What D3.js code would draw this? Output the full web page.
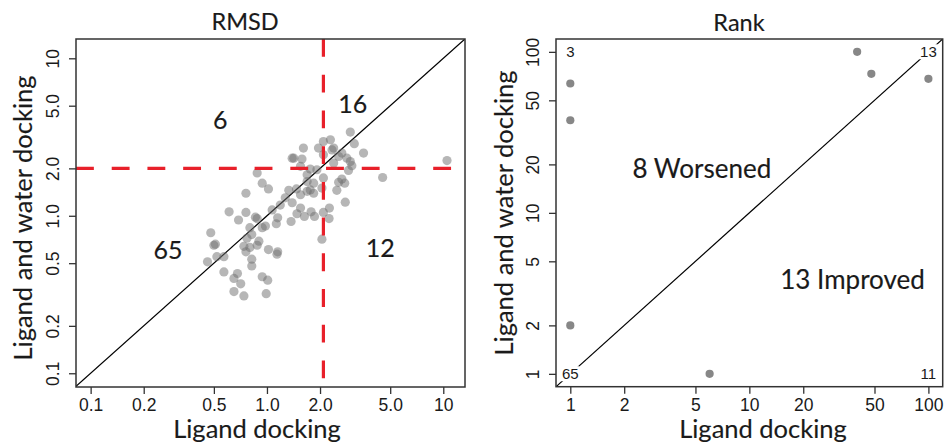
<!DOCTYPE html>
<html>
<head>
<meta charset="utf-8">
<script src="https://cdn.jsdelivr.net/npm/d3@7"></script>
<style>
  body { margin: 0; background: #fff; }
  svg { display: block; }
</style>
</head>
<body>
<script>
// RMSD panel: ligand docking vs ligand + water docking
var rmsdLigand = [2.97, 2.29, 2.09, 1.61, 1.96, 2.39, 3.13, 3.53, 2.66, 1.42, 1.58, 2.09, 2.55, 2.84, 10.5,
  1.76, 1.55, 3.03, 2.90, 2.39, 0.88, 2.09, 2.66, 2.55, 4.53, 1.69, 1.84, 0.94, 1.02, 1.76,
  2.49, 2.05, 1.33, 1.47, 1.55, 1.69, 1.84, 0.76, 2.78, 1.27, 1.19, 1.39, 1.07, 0.61, 0.76,
  1.55, 1.48, 1.63, 1.78, 1.86, 2.09, 2.26, 2.25, 0.69, 0.86, 0.88, 1.15, 1.13, 1.37, 0.98,
  0.80, 0.94, 0.48, 0.82, 0.77, 2.05, 0.50, 0.51, 0.90, 0.74, 0.80, 0.88, 0.76, 1.02, 1.15,
  1.14, 0.46, 0.52, 0.57, 0.82, 0.82, 0.57, 0.68, 0.65, 0.71, 0.94, 1.01, 0.65, 0.74, 0.99,
  2.34, 2.97, 1.92, 1.69, 1.39, 2.76];
var rmsdWater = [3.40, 3.04, 2.96, 2.69, 2.69, 2.69, 2.87, 2.50, 2.50, 2.32, 2.29, 2.44, 2.38, 2.32, 2.24,
  1.98, 2.06, 2.08, 1.94, 2.16, 1.87, 1.74, 1.71, 1.63, 1.75, 1.65, 1.61, 1.61, 1.48, 1.46,
  1.45, 1.50, 1.45, 1.48, 1.36, 1.43, 1.39, 1.39, 1.22, 1.30, 1.17, 1.21, 1.09, 1.06, 1.05,
  1.12, 1.03, 0.99, 1.06, 0.99, 1.05, 1.12, 0.96, 0.94, 0.98, 0.96, 0.97, 0.89, 0.92, 0.86,
  0.84, 0.84, 0.78, 0.76, 0.72, 0.71, 0.65, 0.66, 0.69, 0.64, 0.63, 0.65, 0.59, 0.61, 0.59,
  0.57, 0.51, 0.55, 0.55, 0.53, 0.48, 0.44, 0.43, 0.40, 0.37, 0.41, 0.39, 0.33, 0.31, 0.32,
  2.62, 2.21, 1.96, 1.82, 2.32, 1.61];
var rmsdCutoff = 2;
var rmsdCutoffX = 2.09;
var rmsdTicks = [0.1, 0.2, 0.5, 1, 2, 5, 10];
var rmsdTickLabels = ["0.1", "0.2", "0.5", "1.0", "2.0", "5.0", "10"];
var rmsdCounts = ["6", "16", "65", "12"];

// Rank panel
var rankLigand = [1, 1, 1, 6, 40, 48, 100];
var rankWater = [63.6, 37.6, 2, 1, 100, 73, 68];
var rankTicks = [1, 2, 5, 10, 20, 50, 100];
var rankTickLabels = ["1", "2", "5", "10", "20", "50", "100"];
var rankCornerCounts = ["3", "13", "65", "11"];
var rankNotes = ["8 Worsened", "13 Improved"];

var titleFont = "Lato, 'Open Sans', sans-serif";
var tickFont = "'Liberation Sans', Arial, sans-serif";
var ink = "#1a1a1a";

var svg = d3.select("body").append("svg")
  .attr("width", 944)
  .attr("height", 444);

// slightly heavier look for the Myriad-like labels
function bigText(sel, size) {
  sel.attr("font-family", titleFont).attr("font-size", size)
    .attr("fill", ink).attr("stroke", ink).attr("stroke-width", 0.15);
}

function panel(opt) {
  var x = d3.scaleLog().domain(opt.xDomain).range([opt.left, opt.right]);
  var y = d3.scaleLog().domain(opt.yDomain).range([opt.bottom, opt.top]);
  var g = svg.append("g");

  var clipId = "clip" + opt.id;
  g.append("clipPath").attr("id", clipId)
    .append("rect")
    .attr("x", opt.left).attr("y", opt.top)
    .attr("width", opt.right - opt.left).attr("height", opt.bottom - opt.top);

  var plot = g.append("g").attr("clip-path", "url(#" + clipId + ")");

  // axes
  var xAxis = g.append("g")
    .attr("transform", "translate(0," + opt.bottom + ")")
    .call(d3.axisBottom(x).tickValues(opt.ticks).tickSize(7).tickFormat(function(d, i) { return opt.tickLabels[i]; }));
  var yAxis = g.append("g")
    .attr("transform", "translate(" + opt.left + ",0)")
    .call(d3.axisLeft(y).tickValues(opt.ticks).tickSize(7).tickFormat(function(d, i) { return opt.tickLabels[i]; }));
  [xAxis, yAxis].forEach(function(a) {
    a.select(".domain").remove();
    a.selectAll(".tick line").attr("stroke", "#333").attr("stroke-width", 1.3);
    a.selectAll("text").attr("font-family", tickFont).attr("font-size", 17.5).attr("fill", ink);
  });
  xAxis.selectAll("text").attr("y", 11.5).attr("dy", "0.71em");
  yAxis.selectAll("text")
    .attr("transform", "rotate(-90)")
    .attr("x", 0).attr("y", -17).attr("dy", 0)
    .attr("text-anchor", "middle");

  return { x: x, y: y, g: g, plot: plot };
}

// ---------- RMSD ----------
var p1 = panel({
  id: 1, left: 76, right: 465, top: 39, bottom: 387,
  xDomain: [0.0826, 13.28], yDomain: [0.0818, 13.26],
  ticks: rmsdTicks, tickLabels: rmsdTickLabels
});

p1.plot.append("line")
  .attr("x1", p1.x(rmsdTicks[0] * 0.8)).attr("y1", p1.y(rmsdTicks[0] * 0.8))
  .attr("x2", p1.x(14)).attr("y2", p1.y(14))
  .attr("stroke", "#000").attr("stroke-width", 1.2);

p1.plot.selectAll("circle")
  .data(rmsdLigand)
  .enter().append("circle")
  .attr("cx", function(d) { return p1.x(d); })
  .attr("cy", function(d, i) { return p1.y(rmsdWater[i]); })
  .attr("r", 4.6)
  .attr("fill", "#6e6e6e")
  .attr("fill-opacity", 0.5);

p1.plot.append("line")
  .attr("x1", p1.x.range()[0]).attr("x2", p1.x.range()[1])
  .attr("y1", p1.y(rmsdCutoff)).attr("y2", p1.y(rmsdCutoff))
  .attr("stroke", "#e8202a").attr("stroke-width", 3.2)
  .attr("stroke-dasharray", "17.86,17.86");
p1.plot.append("line")
  .attr("x1", p1.x(rmsdCutoffX)).attr("x2", p1.x(rmsdCutoffX))
  .attr("y1", p1.y.range()[1]).attr("y2", p1.y.range()[0])
  .attr("stroke", "#e8202a").attr("stroke-width", 3.2)
  .attr("stroke-dasharray", "17.86,17.86");

var rmsdCountPos = [[0.543, 4.07], [3.07, 5.14], [0.275, 0.608], [4.39, 0.626]];
p1.g.selectAll(".count")
  .data(rmsdCounts)
  .enter().append("text")
  .attr("class", "count")
  .attr("x", function(d, i) { return p1.x(rmsdCountPos[i][0]); })
  .attr("y", function(d, i) { return p1.y(rmsdCountPos[i][1]); })
  .attr("dy", "0.36em")
  .attr("text-anchor", "middle")
  .call(bigText, 25)
  .text(function(d) { return d; });

// ---------- Rank ----------
var p2 = panel({
  id: 2, left: 556, right: 942.7, top: 39, bottom: 386.7,
  xDomain: [0.832, 120.2], yDomain: [0.832, 120.2],
  ticks: rankTicks, tickLabels: rankTickLabels
});

p2.plot.append("line")
  .attr("x1", p2.x(0.8)).attr("y1", p2.y(0.8))
  .attr("x2", p2.x(125)).attr("y2", p2.y(125))
  .attr("stroke", "#000").attr("stroke-width", 1.2);

var cornerPos = [[1, 100], [100, 100], [1, 1], [100, 1]];
var corner = p2.g.selectAll(".corner")
  .data(rankCornerCounts)
  .enter().append("g")
  .attr("class", "corner")
  .attr("transform", function(d, i) { return "translate(" + p2.x(cornerPos[i][0]) + "," + p2.y(cornerPos[i][1]) + ")"; });
corner.append("text")
  .attr("dy", "0.36em")
  .attr("text-anchor", "middle")
  .attr("font-family", tickFont).attr("font-size", 15).attr("fill", ink)
  .text(function(d) { return d; });
corner.insert("rect", "text")
  .each(function() {
    var b = this.parentNode.querySelector("text").getBBox();
    d3.select(this).attr("x", b.x - 1).attr("y", b.y + 1).attr("width", b.width + 2).attr("height", b.height - 2);
  })
  .attr("fill", "#fff");

p2.plot.selectAll("circle")
  .data(rankLigand)
  .enter().append("circle")
  .attr("cx", function(d) { return p2.x(d); })
  .attr("cy", function(d, i) { return p2.y(rankWater[i]); })
  .attr("r", 4.1)
  .attr("fill", "#878787");

var notePos = [[5.43, 18.7], [37.7, 3.85]];
p2.g.selectAll(".note")
  .data(rankNotes)
  .enter().append("text")
  .attr("class", "note")
  .attr("x", function(d, i) { return p2.x(notePos[i][0]); })
  .attr("y", function(d, i) { return p2.y(notePos[i][1]); })
  .attr("dy", "0.36em")
  .attr("text-anchor", "middle")
  .call(bigText, 26)
  .text(function(d) { return d; });

// frames and titles
[p1, p2].forEach(function(p) {
  var xr = p.x.range(), yr = p.y.range();
  p.g.append("rect")
    .attr("x", xr[0]).attr("y", yr[1])
    .attr("width", xr[1] - xr[0]).attr("height", yr[0] - yr[1])
    .attr("fill", "none").attr("stroke", "#333").attr("stroke-width", 1.5);
});

var titles = [
  { text: "RMSD", x: 245, y: 30 },
  { text: "Rank", x: 739, y: 31 }
];
svg.selectAll(".title")
  .data(titles)
  .enter().append("text")
  .attr("class", "title")
  .attr("x", function(d) { return d.x; })
  .attr("y", function(d) { return d.y; })
  .attr("text-anchor", "middle")
  .call(bigText, 23.5)
  .text(function(d) { return d.text; });

var xTitles = [{ x: 257, y: 438 }, { x: 763, y: 438 }];
svg.selectAll(".xtitle")
  .data(xTitles)
  .enter().append("text")
  .attr("class", "xtitle")
  .attr("x", function(d) { return d.x; })
  .attr("y", function(d) { return d.y; })
  .attr("text-anchor", "middle")
  .call(bigText, 25.5)
  .text("Ligand docking");

var yTitles = [{ x: 32, y: 218 }, { x: 513, y: 213 }];
svg.selectAll(".ytitle")
  .data(yTitles)
  .enter().append("text")
  .attr("class", "ytitle")
  .attr("transform", function(d) { return "translate(" + d.x + "," + d.y + ") rotate(-90)"; })
  .attr("text-anchor", "middle")
  .call(bigText, 25.5)
  .text("Ligand and water docking");
</script>
</body>
</html>
